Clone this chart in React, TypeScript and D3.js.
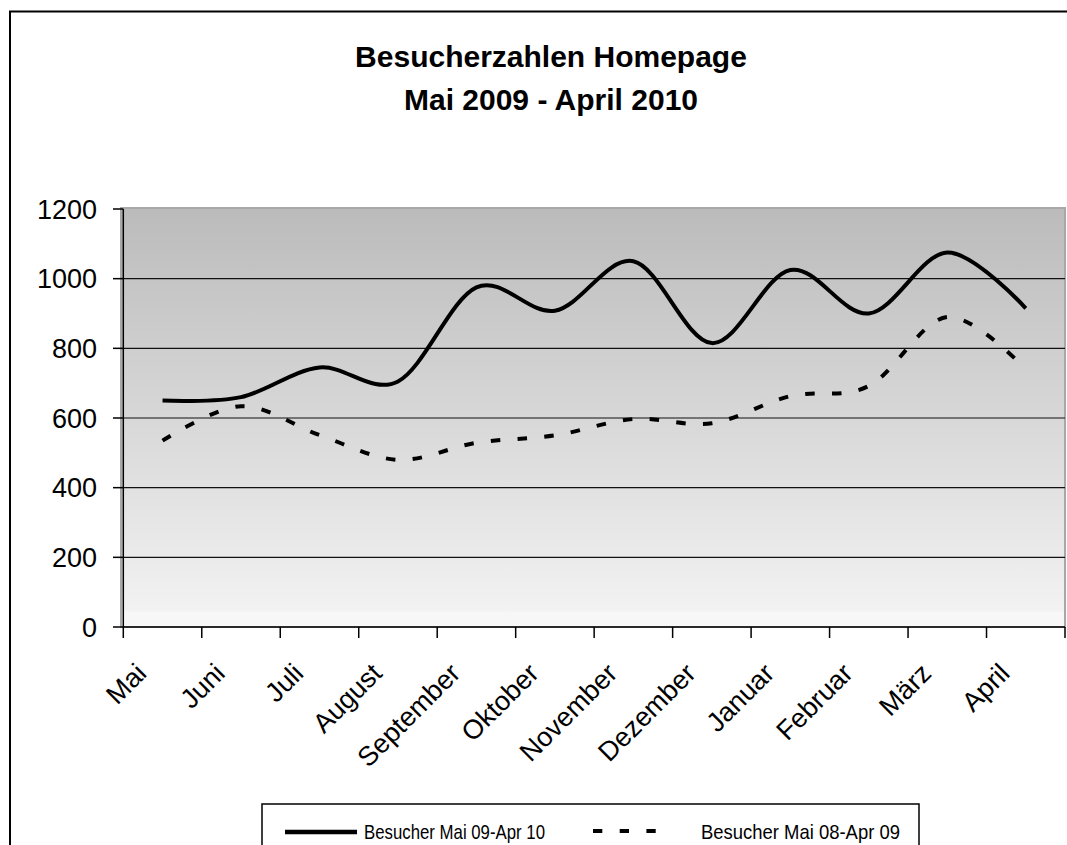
import * as d3 from "d3"

const months = [
  "Mai", "Juni", "Juli", "August", "September", "Oktober",
  "November", "Dezember", "Januar", "Februar", "März", "April",
]
// Besucher Mai 09 - Apr 10
const visitors0910 = [650, 660, 745, 705, 975, 908, 1050, 815, 1025, 900, 1075, 915]
// Besucher Mai 08 - Apr 09
const visitors0809 = [535, 634, 551, 480, 529, 550, 597, 585, 663, 692, 890, 740]
const yTicks = [0, 200, 400, 600, 800, 1000, 1200]
const seriesNames = ["Besucher Mai 09-Apr 10", "Besucher Mai 08-Apr 09"]

const W = 1067
const H = 845
const PLOT = { left: 123.3, right: 1065, top: 209, bottom: 627 }
const FONT = "'Liberation Sans', Arial, sans-serif"

const App = () => {
  const x = d3
    .scaleBand<string>()
    .domain(months)
    .range([PLOT.left, PLOT.right])
  const y = d3.scaleLinear().domain([0, 1200]).range([PLOT.bottom, PLOT.top])

  const line = d3
    .line<number>()
    .x((_, i) => (x(months[i]) as number) + x.bandwidth() / 2)
    .y((d) => y(d))
    .curve(d3.curveCardinal.tension(0))

  const boundaries = months.map((m) => x(m) as number).concat([PLOT.right])

  return (
    <svg
      width={W}
      height={H}
      style={{ position: "absolute", left: 0, top: 0, display: "block" }}
      fontFamily={FONT}
    >
      <defs>
        <linearGradient id="bg" x1="0" y1="0" x2="0" y2="1">
          <stop offset="0" stopColor="#bbbbbb" />
          <stop offset="0.96" stopColor="#f2f2f2" />
          <stop offset="0.965" stopColor="#f7f7f7" />
          <stop offset="1" stopColor="#f8f8f8" />
        </linearGradient>
      </defs>
      <rect width={W} height={H} fill="#fff" />
      {/* outer chart border */}
      <rect x={10} y={11.5} width={1200} height={1000} fill="none" stroke="#000" strokeWidth={2} />

      {/* title */}
      <text x={551} y={67} textAnchor="middle" fontSize={30} fontWeight="bold">
        Besucherzahlen Homepage
      </text>
      <text x={551} y={110} textAnchor="middle" fontSize={30} fontWeight="bold">
        Mai 2009 - April 2010
      </text>

      {/* plot area */}
      <rect
        x={121}
        y={208}
        width={PLOT.right - 121}
        height={PLOT.bottom - 208}
        fill="url(#bg)"
        stroke="#a8a8a8"
        strokeWidth={2}
      />
      {yTicks
        .filter((t) => t > 0 && t < 1200)
        .map((t) => (
          <line key={t} x1={PLOT.left} x2={PLOT.right} y1={y(t)} y2={y(t)} stroke="#111" strokeWidth={1.2} />
        ))}

      {/* y axis */}
      <line x1={PLOT.left} x2={PLOT.left} y1={PLOT.top} y2={PLOT.bottom} stroke="#000" strokeWidth={1.5} />
      {yTicks.map((t) => (
        <g key={t}>
          <line x1={113} x2={PLOT.left} y1={y(t)} y2={y(t)} stroke="#000" strokeWidth={1.5} />
          <text x={97} y={y(t)} dy="0.36em" textAnchor="end" fontSize={27}>
            {t}
          </text>
        </g>
      ))}

      {/* x axis */}
      <line x1={PLOT.left} x2={PLOT.right} y1={PLOT.bottom} y2={PLOT.bottom} stroke="#000" strokeWidth={1.5} />
      {boundaries.map((b, i) => (
        <line key={i} x1={b} x2={b} y1={PLOT.bottom} y2={PLOT.bottom + 11} stroke="#000" strokeWidth={1.5} />
      ))}
      {months.map((m) => {
        const cx = (x(m) as number) + x.bandwidth() / 2 - 14.5
        const cy = 675
        return (
          <text key={m} x={cx} y={cy} textAnchor="end" fontSize={27} transform={`rotate(-45, ${cx}, ${cy})`}>
            {m}
          </text>
        )
      })}

      {/* series */}
      <path d={line(visitors0809) as string} fill="none" stroke="#000" strokeWidth={4} strokeDasharray="9.5,17.3" />
      <path d={line(visitors0910) as string} fill="none" stroke="#000" strokeWidth={4} />

      {/* legend */}
      <rect x={262} y={804} width={657} height={100} fill="#fff" stroke="#000" strokeWidth={1.5} />
      <line x1={285} x2={357} y1={832} y2={832} stroke="#000" strokeWidth={4.5} />
      <text x={364} y={839} fontSize={21} textLength={181} lengthAdjust="spacingAndGlyphs">
        {seriesNames[0]}
      </text>
      <line x1={593} x2={657} y1={831} y2={831} stroke="#000" strokeWidth={4} strokeDasharray="9.3,17.4" />
      <text x={701} y={839} fontSize={21} textLength={199} lengthAdjust="spacingAndGlyphs">
        {seriesNames[1]}
      </text>
    </svg>
  )
}

export default App
